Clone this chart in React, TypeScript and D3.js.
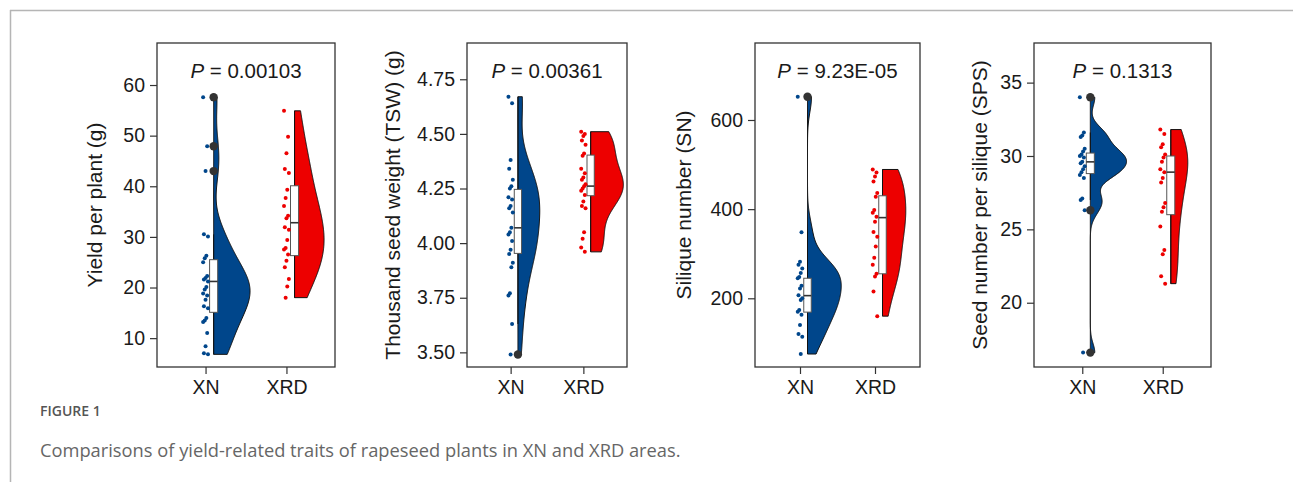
import React, { useEffect, useRef } from "react";
import * as d3 from "d3";

const groups = ["XN", "XRD"];

// Yield per plant (g)
const yieldXN = [57.6, 47.9, 43.0, 30.5, 30.1, 26.3, 25.8, 25.0, 22.3, 21.9, 21.6, 21.2, 20.1, 19.6, 18.8, 18.4, 17.6, 16.3, 15.9, 14.0, 13.5, 13.2, 11.0, 8.4, 7.0, 6.8];
const yieldXRD = [54.9, 49.8, 46.5, 43.4, 42.6, 39.3, 37.7, 36.1, 34.2, 33.7, 31.9, 31.4, 29.4, 27.8, 27.5, 26.5, 25.3, 24.0, 21.7, 20.2, 18.0];
const yieldBoxXN = [15.1, 21.2, 25.5]; // q1, median, q3
const yieldBoxXRD = [26.3, 32.8, 40.1];
const yieldTicks = [10, 20, 30, 40, 50, 60];

// Thousand seed weight (g)
const tswXN = [4.67, 4.64, 4.38, 4.34, 4.29, 4.26, 4.25, 4.21, 4.2, 4.17, 4.16, 4.14, 4.07, 4.05, 4.04, 4.01, 3.97, 3.95, 3.91, 3.89, 3.77, 3.76, 3.63, 3.49];
const tswXRD = [4.51, 4.5, 4.49, 4.47, 4.45, 4.41, 4.4, 4.34, 4.32, 4.3, 4.29, 4.27, 4.26, 4.25, 4.24, 4.22, 4.19, 4.17, 4.16, 4.05, 4.02, 3.98, 3.96];
const tswBoxXN = [3.953, 4.07, 4.246];
const tswBoxXRD = [4.217, 4.261, 4.403];
const tswTicks = [3.5, 3.75, 4.0, 4.25, 4.5, 4.75];

// Silique number
const snXN = [652, 348, 282, 275, 267, 257, 248, 245, 228, 222, 207, 200, 196, 174, 170, 163, 140, 120, 114, 75];
const snXRD = [489, 482, 473, 462, 436, 428, 398, 392, 383, 372, 349, 338, 316, 291, 275, 255, 249, 215, 160];
const snBoxXN = [169, 206, 245];
const snBoxXRD = [255, 381, 430];
const snTicks = [200, 400, 600];

// Seed number per silique
const spsXN = [34.0, 31.6, 31.4, 31.3, 30.5, 30.3, 30.1, 30.0, 29.9, 29.6, 29.5, 29.3, 29.1, 28.9, 28.7, 28.5, 27.1, 27.0, 26.3, 16.6];
const spsXRD = [31.8, 31.5, 30.8, 30.6, 30.1, 29.9, 29.6, 29.1, 28.9, 28.5, 28.2, 26.8, 26.5, 26.2, 25.2, 23.6, 23.3, 21.8, 21.3];
const spsBoxXN = [28.8, 29.6, 30.2];
const spsBoxXRD = [26.0, 28.9, 30.0];
const spsTicks = [20, 25, 30, 35];

const pValues = ["0.00103", "0.00361", "9.23E-05", "0.1313"];
const yTitles = ["Yield per plant (g)", "Thousand seed weight (TSW) (g)", "Silique number (SN)", "Seed number per silique (SPS)"];

const colors = ["#00468B", "#ED0000"];

const panels = [
  { xn: yieldXN, xrd: yieldXRD, boxes: [yieldBoxXN, yieldBoxXRD], ticks: yieldTicks, fmt: "d", left: 157, right: 335, titleX: 102, domain: [4.3, 68.3] },
  { xn: tswXN, xrd: tswXRD, boxes: [tswBoxXN, tswBoxXRD], ticks: tswTicks, fmt: ".2f", left: 467, right: 627, titleX: 400, domain: [3.433, 4.916] },
  { xn: snXN, xrd: snXRD, boxes: [snBoxXN, snBoxXRD], ticks: snTicks, fmt: "d", left: 755, right: 920, titleX: 691, domain: [45.9, 772.7] },
  { xn: spsXN, xrd: spsXRD, boxes: [spsBoxXN, spsBoxXRD], ticks: spsTicks, fmt: "d", left: 1034, right: 1211, titleX: 987, domain: [15.62, 37.7] },
];

const TOP = 43;
const BOTTOM = 367;
const FONT = "'Liberation Sans', Arial, sans-serif";

// silverman's rule as in R's bw.nrd0
function nrd0(values: number[]) {
  const s = values.slice().sort(d3.ascending);
  const sd = d3.deviation(s) || 1;
  const iqr = (d3.quantile(s, 0.75) as number) - (d3.quantile(s, 0.25) as number);
  const lo = Math.min(sd, iqr / 1.34) || sd;
  return 0.9 * lo * Math.pow(s.length, -0.2);
}

function density(values: number[]) {
  const bw = nrd0(values);
  const [lo, hi] = d3.extent(values) as [number, number];
  const grid = d3.range(256).map((i) => lo + (i * (hi - lo)) / 255);
  return grid.map((y) => ({
    y,
    d: d3.mean(values, (v) => Math.exp(-0.5 * ((y - v) / bw) ** 2) / Math.sqrt(2 * Math.PI)) as number / bw,
  }));
}

const App = () => {
  const svgRef = useRef<SVGSVGElement>(null);

  useEffect(() => {
    const svg = d3.select(svgRef.current);
    svg.selectAll("*").remove();

    // page frame
    svg.append("line").attr("x1", 10).attr("x2", 1293).attr("y1", 10.5).attr("y2", 10.5)
      .attr("stroke", "#b5b5b5").attr("stroke-width", 1.5);
    svg.append("line").attr("x1", 10.5).attr("x2", 10.5).attr("y1", 10).attr("y2", 482)
      .attr("stroke", "#b5b5b5").attr("stroke-width", 1.5);

    panels.forEach((p, pi) => {
      const g = svg.append("g");
      const x = d3.scaleLinear().domain([0.4, 2.6]).range([p.left, p.right]);
      const y = d3.scaleLinear().domain(p.domain).range([BOTTOM, TOP]);
      const series = [p.xn, p.xrd];

      const dens = series.map(density);
      const maxD = d3.max(dens.flat(), (d) => d.d) as number;

      g.append("rect").attr("x", p.left).attr("y", TOP)
        .attr("width", p.right - p.left).attr("height", BOTTOM - TOP)
        .attr("fill", "white");

      series.forEach((vals, gi) => {
        const cx = gi + 1;
        const base = cx + 0.1;
        const area = d3.area<{ y: number; d: number }>()
          .x0(x(base))
          .x1((d) => x(base + (d.d / maxD) * 0.45))
          .y((d) => y(d.y));
        g.append("path").attr("d", area(dens[gi]) as string)
          .attr("fill", colors[gi]).attr("stroke", "#111").attr("stroke-width", 1);

        // boxplot
        const [q1, med, q3] = p.boxes[gi];
        const iqr = q3 - q1;
        const inside = vals.filter((v) => v >= q1 - 1.5 * iqr && v <= q3 + 1.5 * iqr);
        const outliers = vals.filter((v) => v < q1 - 1.5 * iqr || v > q3 + 1.5 * iqr);
        g.append("line").attr("x1", x(base)).attr("x2", x(base))
          .attr("y1", y(d3.min(inside) as number)).attr("y2", y(d3.max(inside) as number))
          .attr("stroke", "#111").attr("stroke-width", 1);
        g.append("rect").attr("x", x(base - 0.05)).attr("width", x(base + 0.05) - x(base - 0.05))
          .attr("y", y(q3)).attr("height", y(q1) - y(q3))
          .attr("fill", "white").attr("stroke", "#555").attr("stroke-width", 1);
        g.append("line").attr("x1", x(base - 0.05)).attr("x2", x(base + 0.05))
          .attr("y1", y(med)).attr("y2", y(med))
          .attr("stroke", "#333").attr("stroke-width", 1.6);

        // jittered raw points
        g.selectAll(null).data(vals).enter().append("circle")
          .attr("cx", (d, i) => x(cx + (((i * 5) % 7) - 3) * 0.01))
          .attr("cy", (d) => y(d))
          .attr("r", 2)
          .attr("fill", colors[gi]);

        g.selectAll(null).data(outliers).enter().append("circle")
          .attr("cx", x(base)).attr("cy", (d) => y(d)).attr("r", 4.2)
          .attr("fill", "#333");
      });

      g.append("rect").attr("x", p.left).attr("y", TOP)
        .attr("width", p.right - p.left).attr("height", BOTTOM - TOP)
        .attr("fill", "none").attr("stroke", "#333").attr("stroke-width", 1.3);

      const yAxis = g.append("g").attr("transform", `translate(${p.left},0)`)
        .call(d3.axisLeft(y).tickValues(p.ticks).tickFormat(d3.format(p.fmt)).tickSize(7).tickPadding(5));
      const xAxis = g.append("g").attr("transform", `translate(0,${BOTTOM})`)
        .call(d3.axisBottom(x).tickValues([1, 2]).tickFormat((d, i) => groups[i]).tickSize(7).tickPadding(6));
      [yAxis, xAxis].forEach((a) => {
        a.select(".domain").remove();
        a.selectAll("line").attr("stroke", "#333").attr("stroke-width", 1.2);
        a.selectAll("text").attr("font-family", FONT).attr("font-size", 19.5).attr("fill", "#1a1a1a");
      });

      g.append("text")
        .attr("transform", `translate(${p.titleX},${(TOP + BOTTOM) / 2}) rotate(-90)`)
        .attr("text-anchor", "middle")
        .attr("font-family", FONT).attr("font-size", 21).attr("fill", "#1a1a1a")
        .text(yTitles[pi]);

      const pt = g.append("text")
        .attr("x", (p.left + p.right) / 2).attr("y", TOP + 35)
        .attr("text-anchor", "middle")
        .attr("font-family", FONT).attr("font-size", 20.5).attr("fill", "#1a1a1a");
      pt.append("tspan").attr("font-style", "italic").text("P");
      pt.append("tspan").text(` = ${pValues[pi]}`);
    });

    svg.append("text").attr("x", 40).attr("y", 416)
      .attr("font-family", "'Open Sans', sans-serif").attr("font-size", 14).attr("font-weight", 600)
      .attr("fill", "#555").text("FIGURE 1");
    svg.append("text").attr("x", 40).attr("y", 457)
      .attr("font-family", "'Open Sans', sans-serif").attr("font-size", 18.3).attr("fill", "#666")
      .text("Comparisons of yield-related traits of rapeseed plants in XN and XRD areas.");
  }, []);

  return (
    <svg ref={svgRef} width={1293} height={482}
      style={{ position: "absolute", left: 0, top: 0, background: "white" }} />
  );
};

export default App;
